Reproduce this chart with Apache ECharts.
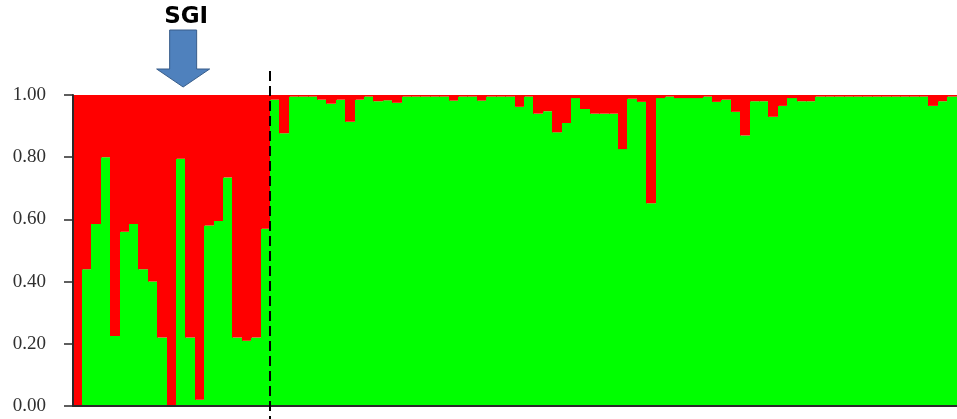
<!DOCTYPE html>
<html>
<head>
<meta charset="utf-8">
<script src="https://cdn.jsdelivr.net/npm/echarts@6/dist/echarts.min.js"></script>
<style>
  html, body { margin: 0; padding: 0; background: #ffffff; }
  #chart { width: 957px; height: 419px; }
</style>
</head>
<body>
<div id="chart"></div>
<script>
// Membership coefficient (green cluster) for each individual, K = 2
const sgiGroup = [
  0.00, 0.44, 0.585, 0.80, 0.225, 0.56, 0.585, 0.44, 0.40, 0.22,
  0.00, 0.795, 0.22, 0.02, 0.58, 0.595, 0.735, 0.22, 0.21, 0.22, 0.57
];
const otherGroup = [
  0.985, 0.877, 0.995, 0.995, 0.995, 0.985, 0.972, 0.985, 0.914, 0.985,
  0.995, 0.98, 0.983, 0.975, 0.995, 0.995, 0.995, 0.995, 0.995, 0.982,
  0.995, 0.995, 0.982, 0.995, 0.995, 0.995, 0.962, 0.995, 0.94, 0.948,
  0.88, 0.91, 0.99, 0.955, 0.94, 0.94, 0.94, 0.826, 0.988, 0.978,
  0.652, 0.99, 0.995, 0.99, 0.99, 0.99, 0.995, 0.978, 0.985, 0.946,
  0.87, 0.98, 0.98, 0.93, 0.965, 0.99, 0.98, 0.98, 0.995, 0.995,
  0.995, 0.995, 0.995, 0.995, 0.995, 0.995, 0.995, 0.995, 0.995, 0.995,
  0.965, 0.98, 0.995
];
const yTicks = [0, 0.2, 0.4, 0.6, 0.8, 1.0];
const groupLabel = 'SGI';

const greenShare = sgiGroup.concat(otherGroup);
const individuals = greenShare.map((_, i) => String(i + 1));

const GREEN = '#00ff00';
const RED = '#ff0000';
const BAR_PITCH = 9.45;

// Each individual is one column: green from 0 up to q, red from q up to 1.
// Column edges are snapped to whole pixels so neighbours butt together.
function renderColumn(params, api) {
  const idx = api.value(0);
  const q = api.value(1);
  const band = api.size([1, 0])[0];
  const cx = api.coord([idx, 0])[0];
  const xL = Math.floor(cx - band / 2);
  const xR = Math.ceil(cx + band / 2);
  const yBase = api.coord([idx, 0])[1];
  const ySplit = api.coord([idx, q])[1];
  const yTop = api.coord([idx, 1])[1];
  return {
    type: 'group',
    children: [
      {
        type: 'rect',
        shape: { x: xL, y: ySplit, width: xR - xL, height: yBase - ySplit },
        style: { fill: GREEN }
      },
      {
        type: 'rect',
        shape: { x: xL, y: yTop, width: xR - xL, height: ySplit - yTop },
        style: { fill: RED }
      }
    ]
  };
}

const chart = echarts.init(document.getElementById('chart'), null, { renderer: 'canvas' });

chart.setOption({
  animation: false,
  backgroundColor: '#ffffff',
  grid: {
    left: 73,
    top: 95,
    width: BAR_PITCH * individuals.length,
    height: 311,
    containLabel: false
  },
  xAxis: {
    type: 'category',
    data: individuals,
    boundaryGap: true,
    axisLine: { show: true, lineStyle: { color: '#2a2a2a', width: 2 } },
    axisTick: { show: false },
    axisLabel: { show: false },
    splitLine: { show: false },
    z: 5
  },
  yAxis: {
    type: 'value',
    min: yTicks[0],
    max: yTicks[yTicks.length - 1],
    interval: 0.2,
    axisLine: { show: true, lineStyle: { color: '#2a2a2a', width: 2 } },
    axisTick: { show: true, length: 9, lineStyle: { color: '#2a2a2a', width: 1.5 } },
    axisLabel: {
      margin: 27,
      color: '#2f2f2f',
      fontFamily: 'Liberation Serif',
      fontSize: 19,
      formatter: v => v.toFixed(2)
    },
    splitLine: { show: false },
    z: 5
  },
  series: [
    {
      name: 'Ancestry',
      type: 'custom',
      renderItem: renderColumn,
      encode: { x: 0, y: 1 },
      data: greenShare.map((q, i) => [i, q]),
      z: 2
    }
  ]
});

// Boundary between the two groups and the marker above the first group,
// both placed from the category scale
const lastSgi = chart.convertToPixel({ xAxisIndex: 0 }, sgiGroup.length - 1);
const firstOther = chart.convertToPixel({ xAxisIndex: 0 }, sgiGroup.length);
const splitX = Math.round((lastSgi + firstOther) / 2);
const markX = chart.convertToPixel({ xAxisIndex: 0 }, 11) + 2;

chart.setOption({
  graphic: [
    {
      type: 'line',
      shape: { x1: splitX, y1: 71, x2: splitX, y2: 419 },
      style: { stroke: '#000000', lineWidth: 2, lineDash: [10, 5] },
      z: 100
    },
    {
      type: 'text',
      x: markX + 3,
      y: 17,
      style: {
        text: groupLabel,
        fill: '#000000',
        font: 'bold 23px "DejaVu Sans"',
        textAlign: 'center',
        textVerticalAlign: 'middle'
      },
      z: 100
    },
    {
      type: 'polygon',
      shape: {
        points: [
          [markX - 13.5, 30], [markX + 13.5, 30], [markX + 13.5, 69],
          [markX + 26.5, 69], [markX, 87], [markX - 26.5, 69], [markX - 13.5, 69]
        ]
      },
      style: { fill: '#4f81bd', stroke: '#385d8a', lineWidth: 1 },
      z: 100
    }
  ]
});
</script>
</body>
</html>
